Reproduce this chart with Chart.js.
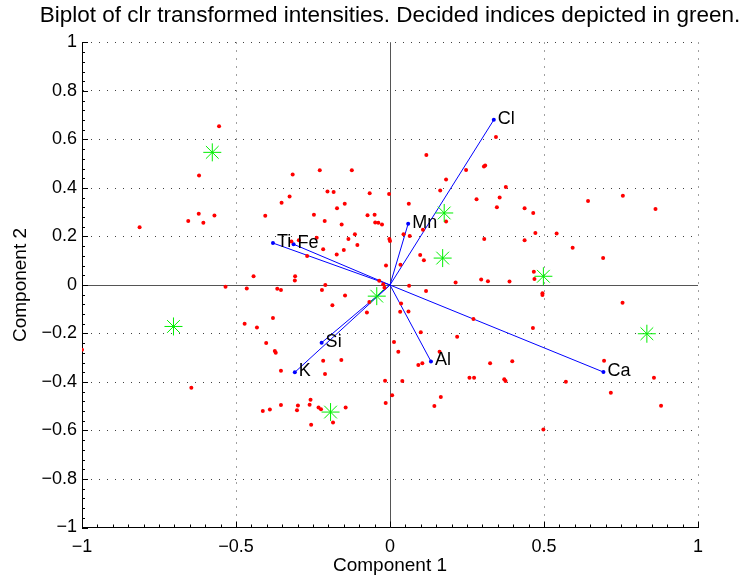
<!DOCTYPE html>
<html>
<head>
<meta charset="utf-8">
<script src="https://cdn.jsdelivr.net/npm/chart.js@4.4.1/dist/chart.umd.min.js"></script>
<style>
  html, body { margin: 0; padding: 0; background: #fff; }
  #wrap { width: 744px; height: 579px; }
</style>
</head>
<body>
<div id="wrap"><canvas id="myChart" width="744" height="579"></canvas></div>
<script>
// scores (red dots)
const scoresX = [-0.555, -0.620, -0.813, -0.655, -0.621, -0.606, -0.570, -0.405, -0.352, -0.326,
  -0.316, -0.228, -0.124, -0.247, -0.212, -0.203, -0.183, -0.172, -0.147, -0.157,
  -0.114, -0.106, -0.135, -0.073, -0.066, -0.050, -0.048, -0.038, -0.026, -0.003,
  -0.002, 0.000, -0.013, -0.320, -0.238, -0.217, -0.173, -0.150, -0.269, -0.296,
  -0.443, -0.308, -0.309, -0.210, -0.035, -0.022,
  0.118, 0.344, 0.247, 0.305, 0.309, 0.182, 0.163, 0.376, 0.061, 0.281,
  0.356, 0.347, 0.437, 0.465, 0.643, 0.756, 0.862, 0.182, 0.044, 0.064,
  0.107, 0.306, 0.437, 0.472, 0.541, 0.593, 0.692, 0.098, 0.110, 0.034,
  0.213, 0.296, 0.318, 0.388, 0.467, 0.469,
  -1.000, -0.645, -0.534, -0.465, -0.366, -0.354, -0.221, -0.146, -0.187, -0.472,
  -0.432, -0.380, -0.402, -0.374, -0.371, -0.354, -0.217, -0.158, -0.211, -0.075,
  -0.067, -0.018, -0.016, -0.014, 0.007, 0.013, 0.027, 0.033, -0.413, -0.390,
  -0.354, -0.299, -0.302, -0.261, -0.258, -0.232, -0.224, -0.185, -0.144, -0.256,
  0.062, 0.117, 0.036, 0.060, 0.271, 0.100, 0.218, 0.161, 0.092, 0.105,
  0.040, 0.165, 0.144, 0.325, 0.397, 0.258, 0.273, 0.371, 0.375, 0.464,
  0.495, 0.495, 0.571, 0.695, 0.717, 0.755, 0.857, 0.880, 0.498];
const scoresY = [0.655, 0.452, 0.238, 0.264, 0.294, 0.257, 0.287, 0.286, 0.339, 0.365,
  0.456, 0.473, 0.473, 0.290, 0.264, 0.386, 0.383, 0.317, 0.335, 0.249,
  0.209, 0.165, 0.190, 0.288, 0.378, 0.290, 0.258, 0.257, 0.249, 0.375,
  0.190, 0.181, 0.080, 0.179, 0.195, 0.147, 0.126, 0.144, 0.120, 0.185,
  0.036, 0.036, 0.019, 0.000, 0.018, 0.003,
  0.536, 0.610, 0.474, 0.489, 0.493, 0.435, 0.390, 0.404, 0.335, 0.354,
  0.361, 0.321, 0.316, 0.297, 0.346, 0.368, 0.313, 0.262, 0.209, 0.202,
  0.228, 0.190, 0.185, 0.214, 0.212, 0.154, 0.111, 0.124, 0.102, 0.084,
  0.010, 0.023, 0.015, 0.014, 0.055, 0.025,
  -0.267, -0.424, -0.007, -0.014, -0.015, -0.021, -0.021, -0.043, -0.083, -0.160,
  -0.175, -0.136, -0.239, -0.272, -0.279, -0.354, -0.312, -0.309, -0.367, -0.113,
  -0.070, -0.011, -0.395, -0.487, -0.455, -0.235, -0.275, -0.110, -0.520, -0.513,
  -0.495, -0.497, -0.517, -0.494, -0.473, -0.505, -0.512, -0.567, -0.505, -0.576,
  -0.003, -0.025, -0.076, -0.109, -0.140, -0.195, -0.213, -0.275, -0.330, -0.323,
  -0.396, -0.462, -0.499, -0.323, -0.314, -0.382, -0.382, -0.389, -0.396, -0.177,
  -0.034, -0.041, -0.399, -0.312, -0.444, -0.073, -0.382, -0.498, -0.596];

// decided indices (green stars)
const decidedX = [-0.577, 0.176, 0.171, 0.498, -0.703, -0.193, -0.043, 0.834];
const decidedY = [0.547, 0.297, 0.111, 0.036, -0.171, -0.524, -0.046, -0.201];

// loadings (blue vectors)
const elements = ['Ti', 'Fe', 'Mn', 'Cl', 'Si', 'K', 'Al', 'Ca'];
const loadX = [-0.380, -0.313, 0.059, 0.337, -0.222, -0.309, 0.133, 0.693];
const loadY = [0.173, 0.168, 0.253, 0.681, -0.238, -0.360, -0.315, -0.359];

const xTicks = [-1, -0.5, 0, 0.5, 1];
const yTicks = [-1, -0.8, -0.6, -0.4, -0.2, 0, 0.2, 0.4, 0.6, 0.8, 1];

const chartTitle = 'Biplot of clr transformed intensities. Decided indices depicted in green.';

const FONT = "'Liberation Sans', Arial, Helvetica, sans-serif";
Chart.defaults.font.family = FONT;
Chart.defaults.color = '#000';

const fmt = v => {
  const r = Math.round(v * 10) / 10;
  return r < 0 ? '\u2212' + String(-r) : String(r);
};

const datasets = [
  {
    label: 'decided',
    data: decidedX.map((x, i) => ({x: x, y: decidedY[i]})),
    pointStyle: 'star',
    pointRadius: 9,
    borderColor: '#00ee00',
    backgroundColor: '#00ee00',
    borderWidth: 1,
    order: 0
  },
  {
    label: 'scores',
    data: scoresX.map((x, i) => ({x: x, y: scoresY[i]})),
    pointStyle: 'circle',
    pointRadius: 2,
    borderWidth: 0,
    backgroundColor: '#ff0000',
    order: 1
  }
];
elements.forEach((name, i) => {
  datasets.push({
    label: name,
    data: [{x: 0, y: 0}, {x: loadX[i], y: loadY[i]}],
    showLine: true,
    borderColor: '#0000ff',
    backgroundColor: '#0000ff',
    borderWidth: 1,
    pointRadius: [0, 2],
    pointBorderWidth: 0,
    order: 2
  });
});

// title over the axes, zero lines, vector labels and inward ticks
const biplotExtras = {
  id: 'biplotExtras',
  beforeDatasetsDraw(chart) {
    const {ctx, chartArea: a, scales: {x, y}} = chart;
    const x0 = Math.round(x.getPixelForValue(0)) + 0.5;
    const y0 = Math.round(y.getPixelForValue(0)) + 0.5;
    ctx.save();
    ctx.strokeStyle = '#555';
    ctx.lineWidth = 1;
    ctx.beginPath();
    ctx.moveTo(a.left, y0); ctx.lineTo(a.right, y0);
    ctx.moveTo(x0, a.top); ctx.lineTo(x0, a.bottom);
    ctx.stroke();
    ctx.restore();
  },
  afterDatasetsDraw(chart) {
    const {ctx, chartArea: a, scales: {x, y}} = chart;
    ctx.save();
    ctx.fillStyle = '#000';
    ctx.font = '22.5px ' + FONT;
    ctx.textAlign = 'center';
    ctx.textBaseline = 'middle';
    ctx.fillText(chartTitle, (a.left + a.right) / 2, 16);

    ctx.font = '18px ' + FONT;
    ctx.textAlign = 'left';
    elements.forEach((name, i) => {
      ctx.fillText(name, x.getPixelForValue(loadX[i]) + 4, y.getPixelForValue(loadY[i]) - 1);
    });

    ctx.strokeStyle = '#000';
    ctx.lineWidth = 1;
    ctx.beginPath();
    for (let v = -1; v <= 1.0001; v += 0.05) {
      const px = Math.round(x.getPixelForValue(v)) + 0.5;
      const major = Math.abs(v * 2 - Math.round(v * 2)) < 1e-6;
      ctx.moveTo(px, a.bottom); ctx.lineTo(px, a.bottom - (major ? 6 : 3));
    }
    for (let v = -1; v <= 1.0001; v += 0.04) {
      const py = Math.round(y.getPixelForValue(v)) + 0.5;
      const major = Math.abs(v * 5 - Math.round(v * 5)) < 1e-6;
      ctx.moveTo(a.left, py); ctx.lineTo(a.left + (major ? 6 : 3), py);
    }
    ctx.stroke();
    ctx.restore();
  }
};

const ctx = document.getElementById('myChart').getContext('2d');
const myChart = new Chart(ctx, {
  type: 'scatter',
  data: { datasets: datasets },
  options: {
    responsive: false,
    animation: false,
    layout: { padding: { left: 0, right: 46, top: 42.5, bottom: 0 } },
    plugins: {
      legend: { display: false },
      tooltip: { enabled: false },
      title: { display: false }
    },
    scales: {
      x: {
        type: 'linear',
        min: -1,
        max: 1,
        afterBuildTicks: s => { s.ticks = xTicks.map(v => ({value: v})); },
        ticks: { callback: fmt, font: { size: 18 }, padding: 9, maxRotation: 0 },
        grid: { color: 'rgba(0,0,0,0.75)', lineWidth: 1, drawTicks: false },
        border: { display: true, color: '#000', width: 1, dash: [1, 7] },
        title: { display: true, text: 'Component 1', font: { size: 19 }, padding: { top: 0, bottom: 2 } },
        afterFit: s => { s.height = 51.5; }
      },
      y: {
        type: 'linear',
        min: -1,
        max: 1,
        afterBuildTicks: s => { s.ticks = yTicks.map(v => ({value: v})); },
        ticks: { callback: fmt, font: { size: 18 }, padding: 5 },
        grid: { color: 'rgba(0,0,0,0.75)', lineWidth: 1, drawTicks: false },
        border: { display: true, color: '#000', width: 1, dash: [1, 7] },
        title: { display: true, text: 'Component 2', font: { size: 19 }, padding: { top: 9, bottom: 0 } },
        afterFit: s => { s.width = 82; }
      }
    }
  },
  plugins: [biplotExtras]
});
</script>
</body>
</html>
